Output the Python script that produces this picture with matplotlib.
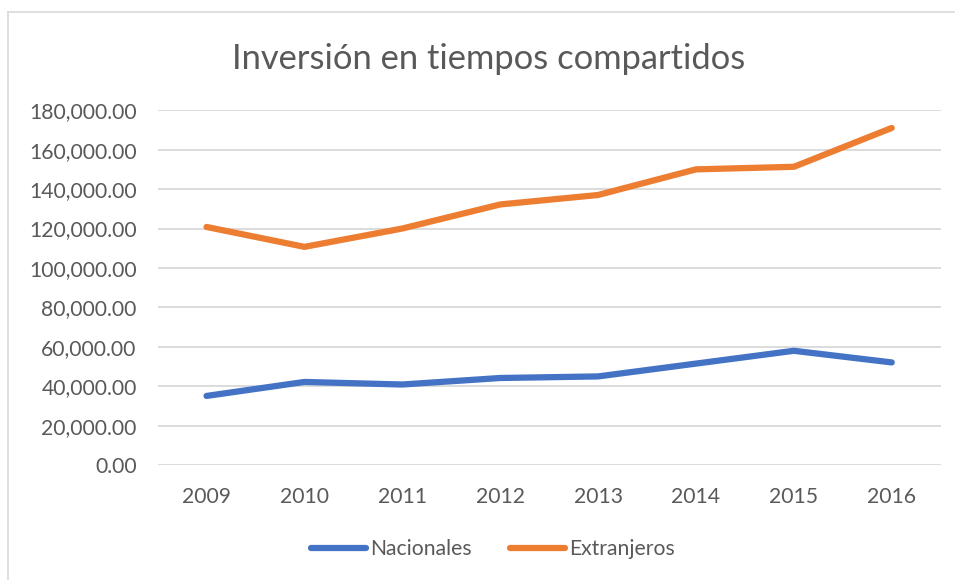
import matplotlib.pyplot as plt
from matplotlib.lines import Line2D
from matplotlib.ticker import FuncFormatter

years = ["2009", "2010", "2011", "2012", "2013", "2014", "2015", "2016"]
nacionales = [35100, 42200, 40900, 44200, 45000, 51500, 58000, 52100]
extranjeros = [120800, 110700, 120000, 132200, 137000, 150000, 151300, 171000]

plt.rcParams['font.family'] = ['Lato', 'DejaVu Sans']

fig = plt.figure(figsize=(9.55, 5.8), dpi=100)
ax = fig.add_axes([0.165, 0.198, 0.820, 0.612])

x = range(len(years))
ax.plot(x, nacionales, color='#4472C4', linewidth=4.5, solid_capstyle='round', label="Nacionales")
ax.plot(x, extranjeros, color='#ED7D31', linewidth=4.5, solid_capstyle='round', label="Extranjeros")

ax.set_xlim(-0.5, len(years) - 0.5)
ax.set_ylim(0, 180000)
ax.set_yticks(range(0, 180001, 20000))
ax.yaxis.set_major_formatter(FuncFormatter(lambda v, p: f"{v:,.2f}"))
ax.set_xticks(list(x))
ax.set_xticklabels(years)

ax.grid(axis='y', color='#D9D9D9', linewidth=1.3)
ax.set_axisbelow(True)
for s in ax.spines.values():
    s.set_visible(False)
ax.tick_params(length=0, labelsize=15.2, colors='#595959')
ax.tick_params(axis='y', pad=15)
ax.tick_params(axis='x', pad=16)

fig.text(0.512, 0.898, "Inversión en tiempos compartidos", ha='center', va='center',
         fontsize=24.8, color='#595959')

fig.legend(loc='center', bbox_to_anchor=(0.516, 0.053), ncol=2, frameon=False,
           fontsize=15.2, labelcolor='#595959', handlelength=2.6, columnspacing=1.8,
           handletextpad=0.2)

# chart border
fig.add_artist(Line2D([8 / 955, 8 / 955], [0, 1 - 12 / 580], color='#D9D9D9', linewidth=1.2))
fig.add_artist(Line2D([8 / 955, 1], [1 - 12 / 580, 1 - 12 / 580], color='#D9D9D9', linewidth=1.2))

fig.savefig('out.png', dpi=100)
